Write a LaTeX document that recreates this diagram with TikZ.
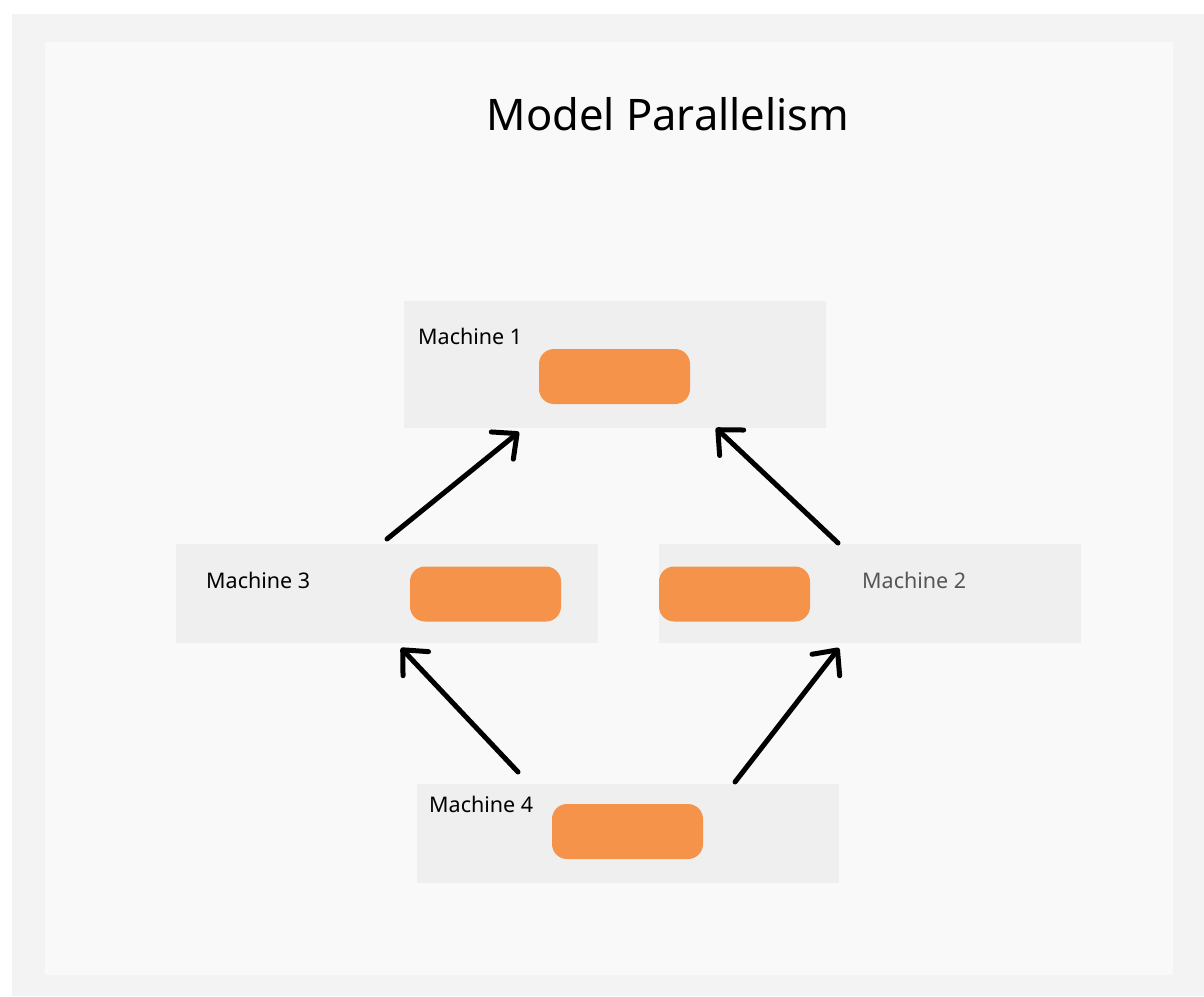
\documentclass[tikz,border=0pt]{standalone}
\usepackage{fontspec}
\setmainfont{Noto Sans}
\usetikzlibrary{arrows.meta}
\definecolor{outerbg}{HTML}{F3F3F3}
\definecolor{innerbg}{HTML}{F9F9F9}
\definecolor{boxgrey}{HTML}{EFEFEF}
\definecolor{pill}{HTML}{F5934A}
\definecolor{softtext}{HTML}{555555}
\tikzset{
  machine/.style={fill=boxgrey, draw=none, minimum width=422pt, minimum height=99pt, inner sep=0pt},
  task/.style={fill=pill, draw=none, rounded corners=15pt, minimum width=151pt, minimum height=55pt, inner sep=0pt},
  label/.style={font=\fontsize{21.5}{24}\selectfont, inner sep=0pt, anchor=base west},
  link/.style={line width=5pt, line cap=round, line join=round,
    -{Straight Barb[length=19pt, width=35pt, round]}},
}
\begin{document}
\begin{tikzpicture}[x=1pt, y=-1pt]
  \useasboundingbox (0,0) rectangle (1204,996);
  % frame and canvas
  \fill[white] (0,0) rectangle (1204,996);
  \fill[outerbg] (12,14) rectangle (1204,996);
  \fill[innerbg] (45,42) rectangle (1173,975);

  % title
  \node[font=\fontsize{43.5}{50}\selectfont, inner sep=0pt, anchor=base] (title) at (668,130) {Model Parallelism};

  % machines
  \node[machine, minimum height=127pt] (m1) at (615,364.5) {};
  \node[machine] (m3) at (387,593.5) {};
  \node[machine] (m2) at (870,593.5) {};
  \node[machine] (m4) at (628,833.5) {};

  % model parts
  \node[task] (p1) at (614.5,376.5) {};
  \node[task] (p3) at (485.5,594) {};
  \node[task] (p2) at (734.5,594) {};
  \node[task] (p4) at (627.5,831.5) {};

  % labels
  \node[label] (l1) at (418,344) {Machine 1};
  \node[label] (l3) at (206,588.5) {Machine 3};
  \node[label, text=softtext] (l2) at (862,588.5) {Machine 2};
  \node[label] (l4) at (429,812.5) {Machine 4};

  % connector ends
  \coordinate (a1s) at (387,539);
  \coordinate (a1e) at (519,432);
  \coordinate (a2s) at (838,543);
  \coordinate (a2e) at (716,428);
  \coordinate (a3s) at (518,772);
  \coordinate (a3e) at (401,648);
  \coordinate (a4s) at (735,782);
  \coordinate (a4e) at (839,648);

  \draw[link] (a1s) -- (a1e);
  \draw[link] (a2s) -- (a2e);
  \draw[link] (a3s) -- (a3e);
  \draw[link] (a4s) -- (a4e);
\end{tikzpicture}
\end{document}
